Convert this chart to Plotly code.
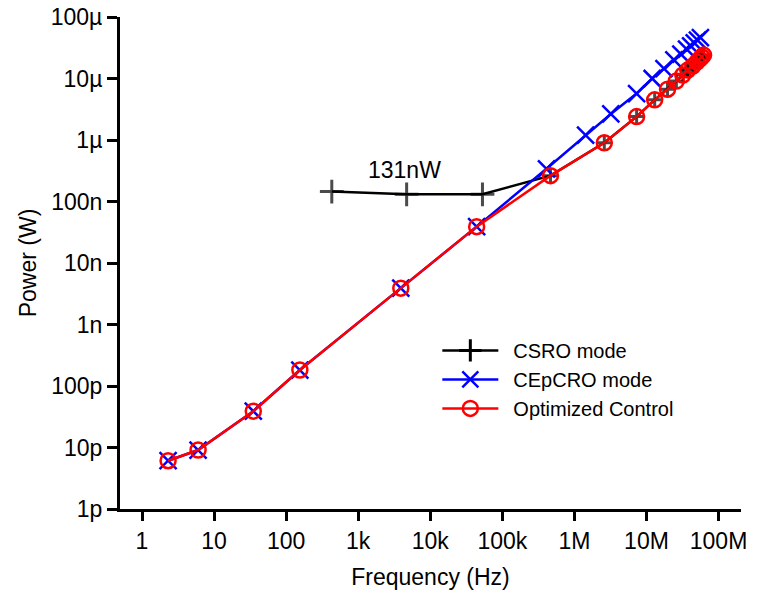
import plotly.graph_objects as go
import numpy as np

# ---- data ----
csro_freq = [430, 4.7e3, 53e3, 466e3, 2.6e6, 7.3e6, 13e6, 19.6e6, 26e6, 32e6, 37.4e6, 44e6, 50e6, 55e6, 58.5e6, 62e6]
csro_power = [145e-9, 131e-9, 131e-9, 263e-9, 0.9e-6, 2.4e-6, 4.5e-6, 6.7e-6, 9.1e-6, 11.4e-6, 13.7e-6, 16e-6, 18.5e-6, 20.7e-6, 22.4e-6, 24e-6]

cepcro_freq = [2.3, 6.0, 35, 155, 3.9e3, 44e3, 410e3, 1.43e6, 3.2e6, 7.3e6, 12e6, 17.5e6, 24e6, 30e6, 36e6, 41e6, 46e6, 51e6, 56e6]
cepcro_power = [6.1e-12, 9.1e-12, 39e-12, 182e-12, 3.9e-9, 39e-9, 340e-9, 1.2e-6, 2.65e-6, 5.7e-6, 10e-6, 14.5e-6, 20e-6, 25e-6, 30e-6, 34e-6, 38e-6, 42e-6, 46e-6]

opt_freq = [2.3, 6.0, 35, 155, 3.9e3, 44e3, 466e3, 2.6e6, 7.3e6, 13e6, 19.6e6, 26e6, 32e6, 37.4e6, 44e6, 50e6, 55e6, 58.5e6, 62e6]
opt_power = [6.1e-12, 9.1e-12, 39e-12, 182e-12, 3.9e-9, 39e-9, 263e-9, 0.9e-6, 2.4e-6, 4.5e-6, 6.7e-6, 9.1e-6, 11.4e-6, 13.7e-6, 16e-6, 18.5e-6, 20.7e-6, 22.4e-6, 24e-6]

x_tick_vals = [1, 10, 100, 1e3, 1e4, 1e5, 1e6, 1e7, 1e8]
x_tick_text = ["1", "10", "100", "1k", "10k", "100k", "1M", "10M", "100M"]
y_tick_vals = [1e-12, 1e-11, 1e-10, 1e-9, 1e-8, 1e-7, 1e-6, 1e-5, 1e-4]
y_tick_text = ["1p", "10p", "100p", "1n", "10n", "100n", "1\u00b5", "10\u00b5", "100\u00b5"]

series_names = ["CSRO mode", "CEpCRO mode", "Optimized Control"]

annot_text = "131nW"
annot_x = 4.4e3
annot_y = 325e-9

FONT = "Liberation Sans, Arial, sans-serif"
GAP = "\u2002"

# CSRO markers: full size on its own plateau, small where it coincides with the optimized curve
csro_sizes = [17 if f < 1e5 else 10 for f in csro_freq]

csro_line = dict(color="black", width=2.5)
csro_marker = dict(symbol="cross-thin", color="black", line=dict(width=3, color="black"))

fig = go.Figure()
# legend entry for CSRO (constant marker size)
fig.add_trace(go.Scatter(
    x=[None], y=[None], mode="lines+markers", name=GAP + series_names[0],
    line=csro_line, marker=dict(csro_marker, size=17),
))
fig.add_trace(go.Scatter(
    x=csro_freq, y=csro_power, mode="lines+markers", name=GAP + series_names[0],
    showlegend=False, line=csro_line, marker=dict(csro_marker, size=csro_sizes),
))
fig.add_trace(go.Scatter(
    x=cepcro_freq, y=cepcro_power, mode="lines+markers", name=GAP + series_names[1],
    line=dict(color="#0000ff", width=2.5),
    marker=dict(symbol="x-thin", size=17, color="#0000ff", line=dict(width=2.5, color="#0000ff")),
))
fig.add_trace(go.Scatter(
    x=opt_freq, y=opt_power, mode="lines+markers", name=GAP + series_names[2],
    line=dict(color="#ff0000", width=2.5),
    marker=dict(symbol="circle-open", size=15, color="#ff0000", line=dict(width=2.5, color="#ff0000")),
))

fig.add_annotation(x=np.log10(annot_x), y=np.log10(annot_y), text=annot_text,
                   showarrow=False, font=dict(family=FONT, size=23, color="black"))

fig.update_layout(
    width=751, height=587,
    margin=dict(l=112, r=18, t=9, b=86, autoexpand=False),
    paper_bgcolor="white", plot_bgcolor="white",
    font=dict(family=FONT, size=23, color="black"),
    showlegend=True,
    legend=dict(x=0.511, y=0.362, xanchor="left", yanchor="top",
                bgcolor="rgba(0,0,0,0)", font=dict(family=FONT, size=20, color="black"),
                itemwidth=56, tracegroupgap=0),
)
fig.update_xaxes(
    type="log", range=[np.log10(0.495), np.log10(2.05e8)],
    tickvals=x_tick_vals, ticktext=x_tick_text, automargin=False,
    ticklabeloverflow="allow",
    showline=True, linecolor="black", linewidth=3, mirror=False,
    ticks="outside", ticklen=9, tickwidth=3, tickcolor="black",
    showgrid=False, zeroline=False,
    title=dict(text="Frequency (Hz)", font=dict(family=FONT, size=23), standoff=17),
)
fig.update_yaxes(
    type="log", range=[-12, -4],
    tickvals=y_tick_vals, ticktext=y_tick_text, automargin=False,
    ticklabeloverflow="allow",
    showline=True, linecolor="black", linewidth=3, mirror=False,
    ticks="outside", ticklen=10, tickwidth=3, tickcolor="black",
    showgrid=False, zeroline=False,
    title=dict(text="Power (W)", font=dict(family=FONT, size=23), standoff=8),
)

fig.write_html("out.html")
